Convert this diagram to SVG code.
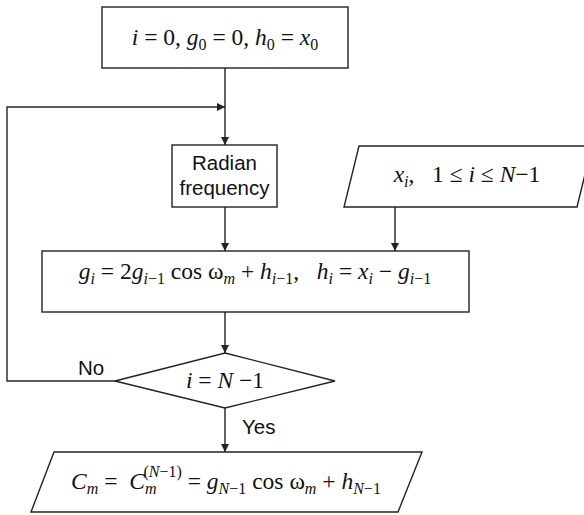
<svg xmlns="http://www.w3.org/2000/svg" width="584" height="515" viewBox="0 0 584 515">
<style>
.shape{fill:#fff;stroke:#222;stroke-width:1.4}
.line{fill:none;stroke:#222;stroke-width:1.4}
.math{font-family:"Liberation Serif","Times New Roman",serif;font-size:23.5px;fill:#111;white-space:pre}
.it{font-style:italic}
.sub{font-size:16px}
.lbl{font-family:"Liberation Sans",Arial,sans-serif;font-size:20.5px;fill:#111}
</style>
<defs>
<marker id="ah" viewBox="0 0 10 10" refX="10" refY="5" markerWidth="8" markerHeight="8" markerUnits="userSpaceOnUse" orient="auto">
<path d="M0,0 L10,5 L0,10 z" fill="#222"/>
</marker>
</defs>
<g id="connectors">
<path class="line" d="M225,68 V145" marker-end="url(#ah)"/>
<path class="line" d="M115,381 H7 V107 H225" marker-end="url(#ah)"/>
<path class="line" d="M225,207 V251" marker-end="url(#ah)"/>
<path class="line" d="M395,207 V251" marker-end="url(#ah)"/>
<path class="line" d="M225,312 V353" marker-end="url(#ah)"/>
<path class="line" d="M225,408 V452" marker-end="url(#ah)"/>
<text class="lbl" x="78" y="375">No</text>
<text class="lbl" x="242" y="434">Yes</text>
</g>
<g id="init">
<rect class="shape" x="102" y="7" width="246" height="61"/>
<text class="math" x="225" y="45" text-anchor="middle" xml:space="preserve"><tspan class="it">i</tspan> = 0, <tspan class="it">g</tspan><tspan class="sub" dy="5">0</tspan><tspan dy="-5"> = 0, </tspan><tspan class="it">h</tspan><tspan class="sub" dy="5">0</tspan><tspan dy="-5"> = </tspan><tspan class="it">x</tspan><tspan class="sub" dy="5">0</tspan></text>
</g>
<g id="radian">
<rect class="shape" x="172" y="145" width="105" height="62"/>
<text class="lbl" x="224.5" y="170" text-anchor="middle">Radian</text>
<text class="lbl" x="224.5" y="195" text-anchor="middle">frequency</text>
</g>
<g id="input">
<path class="shape" d="M359,146 H592 L577,207 H344 Z"/>
<text class="math" x="467" y="182" text-anchor="middle" xml:space="preserve"><tspan class="it">x</tspan><tspan class="sub it" dy="5">i</tspan><tspan dy="-5">,   1 ≤ </tspan><tspan class="it">i</tspan> ≤ <tspan class="it">N</tspan>−1</text>
</g>
<g id="update">
<rect class="shape" x="42" y="251" width="427" height="61"/>
<text class="math" x="255" y="279" text-anchor="middle" xml:space="preserve"><tspan class="it">g</tspan><tspan class="sub it" dy="5">i</tspan><tspan dy="-5"> = 2</tspan><tspan class="it">g</tspan><tspan class="sub" dy="5"><tspan class="it">i</tspan>−1</tspan><tspan dy="-5"> cos ω</tspan><tspan class="sub it" dy="5">m</tspan><tspan dy="-5"> + </tspan><tspan class="it">h</tspan><tspan class="sub" dy="5"><tspan class="it">i</tspan>−1</tspan><tspan dy="-5">,   </tspan><tspan class="it">h</tspan><tspan class="sub it" dy="5">i</tspan><tspan dy="-5"> = </tspan><tspan class="it">x</tspan><tspan class="sub it" dy="5">i</tspan><tspan dy="-5"> − </tspan><tspan class="it">g</tspan><tspan class="sub" dy="5"><tspan class="it">i</tspan>−1</tspan></text>
</g>
<g id="decision">
<path class="shape" d="M225,353 L335,381 L225,408 L115,381 Z"/>
<text class="math" x="225" y="388" text-anchor="middle" xml:space="preserve"><tspan class="it">i</tspan> = <tspan class="it">N</tspan> −1</text>
</g>
<g id="output">
<path class="shape" d="M54,452 H422 L398,512 H31 Z"/>
<text class="math" x="226" y="489" text-anchor="middle" xml:space="preserve"><tspan class="it">C</tspan><tspan class="sub it" dy="5">m</tspan><tspan dy="-5"> =  </tspan><tspan class="it">C</tspan><tspan class="sub it" dy="5">m</tspan><tspan class="sub" dx="-13" dy="-17">(<tspan class="it">N</tspan>−1)</tspan><tspan dy="12"> = </tspan><tspan class="it">g</tspan><tspan class="sub" dy="5"><tspan class="it">N</tspan>−1</tspan><tspan dy="-5"> cos ω</tspan><tspan class="sub it" dy="5">m</tspan><tspan dy="-5"> + </tspan><tspan class="it">h</tspan><tspan class="sub" dy="5"><tspan class="it">N</tspan>−1</tspan></text>
</g>
</svg>
